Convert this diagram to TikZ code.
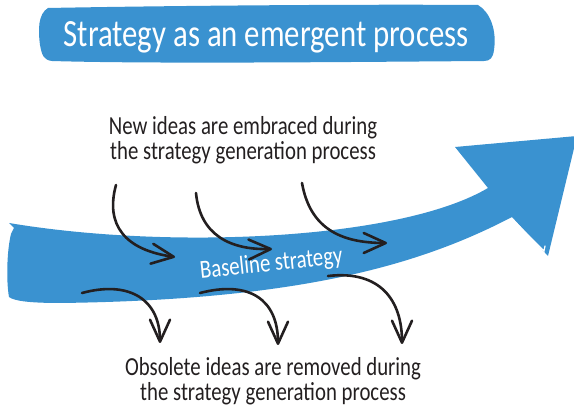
\documentclass[tikz,border=0pt]{standalone}
\usepackage{fontspec}
\newfontfamily\hand[FakeStretch=0.8]{Carlito}
\usetikzlibrary{arrows.meta}
\definecolor{bandblue}{RGB}{58,146,208}
\definecolor{inkblack}{RGB}{35,31,32}

\begin{document}
\begin{tikzpicture}[x=1pt,y=-1pt,
    band/.style={fill=bandblue},
    idea/.style={draw=inkblack, line width=2.6pt, line cap=round,
      -{Straight Barb[length=22pt,width=20pt,round]}},
    note/.style={text=inkblack, align=center, inner sep=0pt,
      font=\hand\fontsize{26}{25}\selectfont},
    bannertext/.style={text=white, inner sep=0pt,
      font=\hand\fontsize{38.5}{40}\selectfont}]

    \useasboundingbox (0,0) rectangle (574,409);
    \clip (0,0) rectangle (574,409);

    % title banner
    \fill[band] (48,8) .. controls (150,6) and (350,4) .. (478,5)
      .. controls (490,12) and (497,30) .. (494,50)
      .. controls (493,58) and (490,61) .. (484,61)
      .. controls (350,62) and (150,64) .. (52,61)
      .. controls (44,60) and (42,56) .. (40,45)
      .. controls (38,30) and (38,14) .. (48,8) -- cycle;
    \node[bannertext, anchor=base] (heading) at (266,47) {Strategy as an emergent process};

    % the big arrow
    \fill[band] (9,223) .. controls (170,250) and (400,240) .. (488,188)
      -- (455,147) -- (577,136) -- (548,256) -- (512,217)
      .. controls (420,265) and (300,300) .. (60,303)
      .. controls (30,303) and (14,301) .. (9,297)
      .. controls (6,280) and (7,250) .. (11,234) -- (14,228) -- cycle;
    \draw[white, line width=1.2pt, line cap=round] (514,221) -- (544,251) -- (545,246);
    \node[anchor=base, rotate=6, text=white, inner sep=0pt,
      font=\hand\fontsize{26}{28}\selectfont] (baseline) at (272,271) {Baseline strategy};

    % texts
    \node[note, anchor=base] (newideas) at (243,160)
      {New ideas are embraced during\\the strategy generation process};
    \node[note, anchor=base] (oldideas) at (273,400)
      {Obsolete ideas are removed during\\the strategy generation process};

    % ideas coming in
    \coordinate (embrace1) at (116,185);  \coordinate (embrace1end) at (175,257);
    \coordinate (embrace2) at (196,193);  \coordinate (embrace2end) at (272,249);
    \coordinate (embrace3) at (302,183);  \coordinate (embrace3end) at (387,243);
    \draw[idea] (embrace1) .. controls +(-11,40) and +(-50,-7) .. (embrace1end);
    \draw[idea] (embrace2) .. controls +(4,42) and +(-42,1) .. (embrace2end);
    \draw[idea] (embrace3) .. controls +(8,45) and +(-47,0) .. (embrace3end);

    % ideas going out
    \coordinate (remove1) at (82,293);   \coordinate (remove1end) at (160,343);
    \coordinate (remove2) at (200,293);  \coordinate (remove2end) at (278,345);
    \coordinate (remove3) at (328,276);  \coordinate (remove3end) at (402,344);
    \draw[idea] (remove1) .. controls +(48,-13) and +(0,-43) .. (remove1end);
    \draw[idea] (remove2) .. controls +(50,-13) and +(0,-45) .. (remove2end);
    \draw[idea] (remove3) .. controls +(52,-6) and +(0,-44) .. (remove3end);

\end{tikzpicture}
\end{document}
